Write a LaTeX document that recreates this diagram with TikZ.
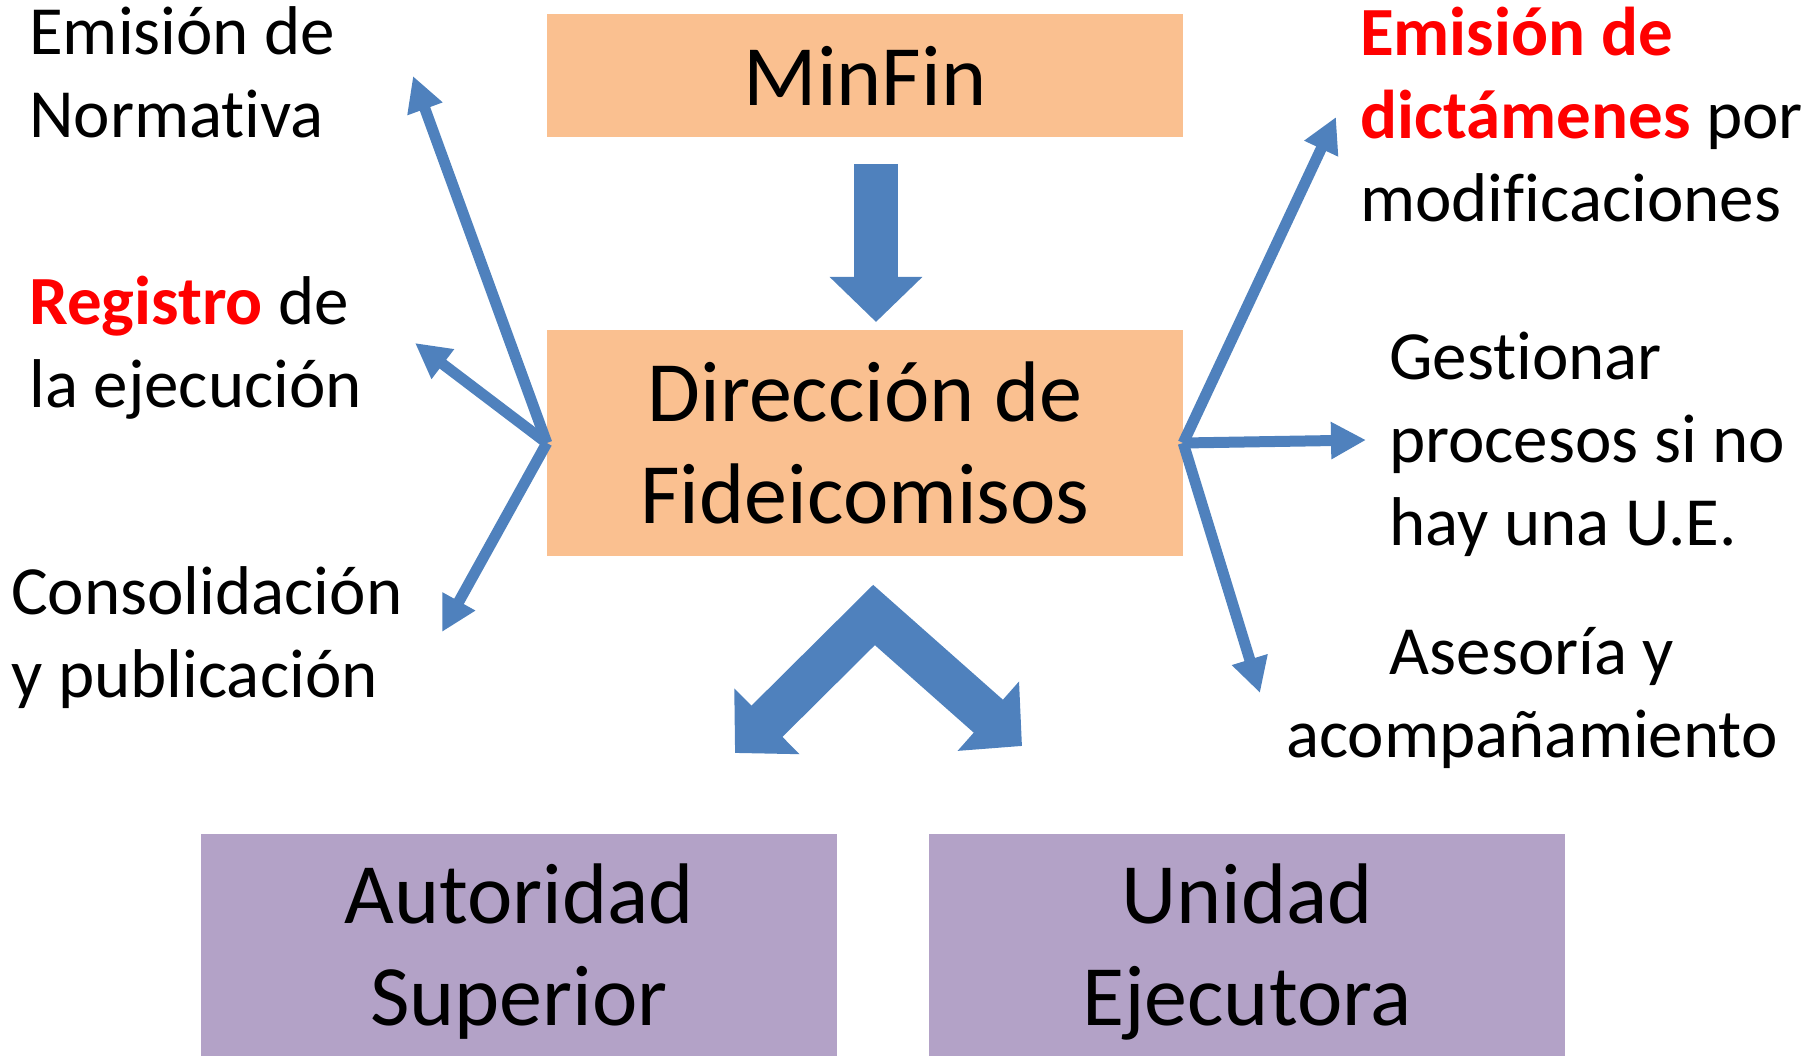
\documentclass[tikz,border=0pt]{standalone}
\usepackage{fontspec}
\setmainfont{Carlito}[Ligatures=NoCommon]
\usetikzlibrary{arrows.meta}

\definecolor{boxorange}{HTML}{FAC090}
\definecolor{boxpurple}{HTML}{B3A2C7}
\definecolor{arrowblue}{HTML}{4F81BD}

\begin{document}
\begin{tikzpicture}[x=1pt,y=-1pt]

\tikzset{flow box/.style={
    fill=#1,
    minimum width=636pt,
    inner sep=0pt,
    align=center,
    font=\fontsize{86}{102}\selectfont
  },
  side text/.style={
    anchor=base west,
    align=left,
    inner sep=0pt,
    font=\fontsize{69}{83}\selectfont
  },
  thin arrow/.style={draw=arrowblue, line width=11pt,
    -{Triangle[length=35pt,width=35pt]}},
  block arrow/.style={draw=arrowblue, line width=44pt, line join=miter}
}

\useasboundingbox (0,0) rectangle (1819,1056);

\node[flow box=boxorange, minimum height=123pt] (minfin) at (865,75.5) {MinFin};
\node[flow box=boxorange, minimum height=226pt] (fide) at (865,443) {Dirección de\\Fideicomisos};
\node[flow box=boxpurple, minimum height=236pt] (autoridad) at (519,952) {Autoridad\\Superior};
\node[flow box=boxpurple, minimum height=236pt] (unidad) at (1247,952) {Unidad\\Ejecutora};

% side texts, placed by the baseline of their last line
\node[side text] (normativa) at (29,138) {Emisión de\\Normativa};
\node[side text] (registro) at (29,407) {\textcolor{red}{\bfseries Registro} de\\la ejecución};
\node[side text] (consolida) at (11,697) {Consolidación\\y publicación};
\node[side text] (dictamen) at (1360,222) {\textcolor{red}{\bfseries Emisión de}\\\textcolor{red}{\bfseries dictámenes} por\\modificaciones};
\node[side text] (gestion) at (1389,545) {Gestionar\\procesos si no\\hay una U.E.};
\node[side text, anchor=base, align=center] (asesoria) at (1532,757) {Asesoría y\\acompañamiento};

% free ends of the arrows
\coordinate (toNorm) at (413,76);
\coordinate (toReg) at (415,343);
\coordinate (toCons) at (442,632);
\coordinate (toDict) at (1336,117);
\coordinate (toGest) at (1366,440);
\coordinate (toAses) at (1260,693);
\coordinate (downtop) at (876,164);
\coordinate (downtip) at (876,322);
\coordinate (tipA) at (735,753);
\coordinate (apex) at (874,615);
\coordinate (tipU) at (1022,746);

\draw[thin arrow] (fide.west) -- (toNorm);
\draw[thin arrow] (fide.west) -- (toReg);
\draw[thin arrow] (fide.west) -- (toCons);
\draw[thin arrow] (fide.east) -- (toDict);
\draw[thin arrow] (fide.east) -- (toGest);
\draw[thin arrow] (fide.east) -- (toAses);

\draw[block arrow, -{Triangle[length=45pt,width=90pt]}] (downtop) -- (downtip);
\draw[block arrow, {Triangle[length=45pt,width=90pt]}-{Triangle[length=45pt,width=90pt]}] (tipA) -- (apex) -- (tipU);

\end{tikzpicture}
\end{document}
